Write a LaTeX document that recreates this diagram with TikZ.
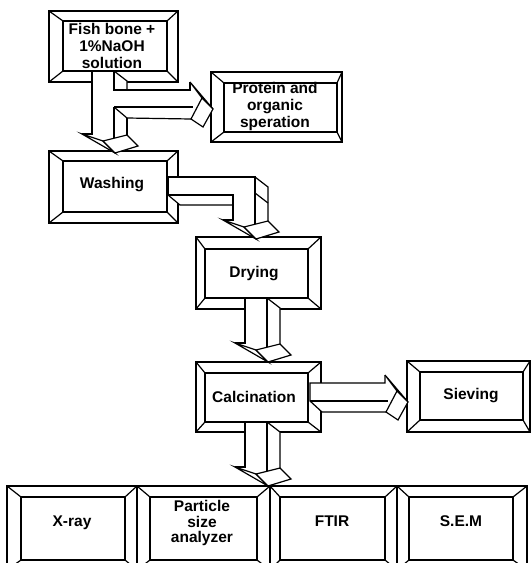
\documentclass[tikz,border=0pt]{standalone}
\usepackage{fontspec}
\setmainfont{Liberation Sans}
\tikzset{
  ln/.style={line width=1.2pt, line join=miter},
  boxo/.style={draw, ln, rectangle, inner sep=0pt, outer sep=0pt, fill=white},
  lbl/.style={font=\bfseries\fontsize{15.5}{17}\selectfont, align=center, inner sep=0pt},
  face/.style={draw, fill=white, ln},
}
% bevelled box: name, outer x1 y1 x2 y2, inner x1 y1 x2 y2
\newcommand\bevbox[9]{%
  \node[boxo, minimum width={(#4)-(#2)}, minimum height={(#5)-(#3)}] (#1) at ({((#2)+(#4))/2},{((#3)+(#5))/2}) {};
  \draw[ln] (#6,#7) rectangle (#8,#9);
  \draw[ln] (#2,#3)--(#6,#7) (#4,#3)--(#8,#7) (#2,#5)--(#6,#9) (#4,#5)--(#8,#9);
}
% heads
\newcommand\dnhead[2]{%
  \draw[face] (#1-10,#2)--(#1+11,#2+7)--(#1+23,#2+19)--cycle;
  \draw[face] (#1+11,#2+7)--(#1+35,#2+1)--(#1+46,#2+12)--(#1+23,#2+19)--cycle;
}
\newcommand\rthead[2]{%
  \draw[face] (#1,#2-8)--(#1+12,#2+8)--(#1+23,#2+19)--cycle;
  \draw[face] (#1+12,#2+8)--(#1+1,#2+29)--(#1+13,#2+37)--(#1+23,#2+19)--cycle;
}
% straight down arrow: L, y0, yb
\newcommand\dnarrow[3]{%
  \fill[white] (#1,#2) rectangle (#1+22,#3+3);
  \fill[white] (#1+22,#2)--(#1+35,#2+10)--(#1+35,#3+1)--(#1+22,#3+3)--cycle;
  \draw[ln] (#1+22,#2)--(#1+35,#2+10)--(#1+35,#3+1);
  \draw[ln] (#1-10,#3)--(#1,#3)--(#1,#2)--(#1+22,#2)--(#1+22,#3+5);
  \dnhead{#1}{#3}
}
% straight right arrow: X0, T, X
\newcommand\rtarrow[3]{%
  \fill[white] (#1,#2) rectangle (#3,#2+18);
  \fill[white] (#1,#2+18)--(#1+12,#2+29)--(#3+1,#2+29)--(#3,#2+18)--cycle;
  \draw[ln] (#3,#2-8)--(#3,#2)--(#1,#2)--(#1,#2+18)--(#1+12,#2+29)--(#3+1,#2+29);
  \draw[ln] (#1,#2+18)--(#3+3,#2+18);
  \rthead{#3}{#2}
}
\begin{document}
\begin{tikzpicture}[x=1pt,y=-1pt]
  \useasboundingbox (0,0) rectangle (532,563);
  \clip (0,0) rectangle (532,563);
  % boxes
  \bevbox{fish}{49}{11}{178}{82}{63}{21}{167}{71}
  \node[lbl] (fisht) at (112,46) {Fish bone +\\1\%NaOH\\solution};
  \bevbox{prot}{211}{72}{342}{142}{224}{83}{337}{132}
  \node[lbl] (prott) at (275,106) {Protein and\\organic\\speration};
  \bevbox{wash}{49}{151}{178}{223}{63}{161}{167}{212}
  \node[lbl] (washt) at (112,185) {Washing};
  \bevbox{dry}{196}{237}{321}{309}{205}{249}{308}{298}
  \node[lbl] (dryt) at (254,274) {Drying};
  \bevbox{calc}{196}{362}{321}{432}{205}{373}{308}{422}
  \node[lbl] (calct) at (254,397) {Calcination};
  \bevbox{siev}{407}{361}{530}{432}{420}{372}{523}{420}
  \node[lbl] (sievt) at (471,396) {Sieving};
  \bevbox{xray}{7}{486}{137}{570}{21}{497}{125}{560}
  \node[lbl] (xrayt) at (72,523) {X-ray};
  \bevbox{psa}{137}{486}{270}{570}{150}{497}{257}{560}
  \node[lbl, font=\bfseries\fontsize{15.5}{15.5}\selectfont] (psat) at (202,523) {Particle\\size\\analyzer};
  \bevbox{ftir}{270}{486}{397}{570}{280}{497}{385}{560}
  \node[lbl] (ftirt) at (332,521) {FTIR};
  \bevbox{sem}{397}{486}{527}{570}{409}{497}{513}{560}
  \node[lbl] (semt) at (461,521) {S.E.M};

  % arrow 1: fish -> washing, branch -> protein
  \fill[white] (92,71) rectangle (114,137);
  \fill[white] (114,71)--(127,81)--(127,136)--(114,136)--cycle;
  \fill[white] (114,90) rectangle (190,107);
  \fill[white] (114,107)--(127,118)--(191,119)--(190,107)--cycle;
  \draw[ln] (82,134)--(92,134)--(92,71)--(114,71)--(114,90)--(190,90)--(190,82);
  \draw[ln] (114,71)--(127,81)--(127,90);
  \draw[ln] (114,107)--(193,107);
  \draw[ln] (114,107)--(127,118)--(191,119);
  \draw[ln] (114,107)--(114,139);
  \draw[ln] (127,118)--(127,135);
  \dnhead{92}{134}
  \rthead{190}{90}

  % arrow 2: washing -> drying
  \fill[white] (168,177) rectangle (255,195);
  \fill[white] (233,177) rectangle (255,223);
  \fill[white] (255,177)--(268,187)--(268,221)--(255,223)--cycle;
  \fill[white] (168,195)--(180,205)--(233,205)--(233,195)--cycle;
  \draw[ln] (168,195)--(168,177)--(255,177)--(255,225);
  \draw[ln] (255,177)--(268,187)--(268,221);
  \draw[ln] (255,193)--(268,203);
  \draw[ln] (168,195)--(233,195)--(233,220)--(223,220);
  \draw[ln] (168,195)--(180,205)--(233,205);
  \dnhead{233}{220}

  % arrow 3: drying -> calcination
  \dnarrow{245}{298}{343}
  % arrow 4: calcination -> sieving
  \rtarrow{310}{383}{385}
  % arrow 5: calcination -> analyses
  \dnarrow{245}{422}{467}
\end{tikzpicture}
\end{document}
